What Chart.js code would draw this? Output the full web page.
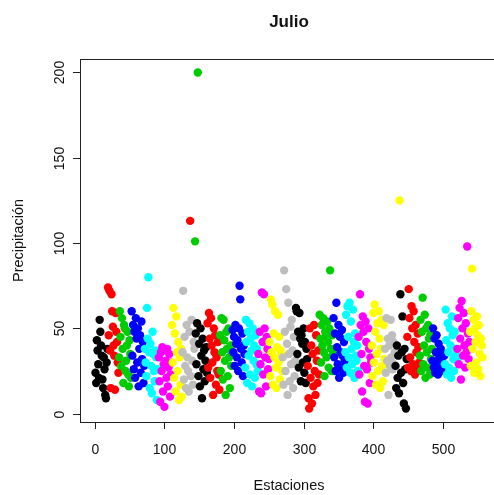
<!DOCTYPE html>
<html>
<head>
<meta charset="utf-8">
<script src="https://cdn.jsdelivr.net/npm/chart.js@4/dist/chart.umd.min.js"></script>
<style>
  html, body { margin: 0; padding: 0; overflow: hidden; background: #fff; }
  canvas { display: block; }
</style>
</head>
<body>
<canvas id="chart" width="510" height="495"></canvas>
<script>
// R default palette (colour = estado, cycling over 8 colours)
const paleta = ['#000000', '#FF0000', '#00CD00', '#0000FF', '#00FFFF', '#FF00FF', '#FFFF00', '#BEBEBE'];

// consecutive runs of stations sharing a colour
const colorCorrida = [0, 1, 2, 3, 4, 5, 6, 7, 1, 7, 2, 0, 2, 0, 1, 2, 3, 4, 5, 6, 7, 0, 1, 2, 3, 4, 5, 6, 7, 0, 6, 0, 1, 2, 3, 4, 5, 6];
const largoCorrida = [18, 16, 18, 19, 20, 19, 15, 11, 1, 6, 1, 3, 1, 13, 18, 18, 18, 19, 16, 19, 19, 17, 17, 20, 17, 19, 19, 19, 15, 6, 1, 10, 18, 18, 18, 18, 18, 19];

// July precipitation per station, in station order
const precipitacion = [
  24, 18, 43, 37, 29, 21, 55, 48, 40, 34, 20, 15, 33, 26, 11, 9, 30, 38,
  74, 46, 72, 37, 15, 70, 60, 51, 40, 34, 14, 59, 48, 42, 30, 24,
  33, 60, 45, 28, 56, 38, 18, 52, 50, 25, 31, 40, 48, 23, 16, 43, 35, 21,
  60, 34, 52, 26, 48, 21, 56, 44, 30, 50, 16, 38, 46, 24, 54, 32, 42, 18, 28,
  38, 30, 22, 62, 44, 80, 36, 15, 41, 28, 12, 48, 35, 25, 19, 37, 33, 8, 26, 34,
  33, 19, 7, 36, 25, 39, 13, 29, 4, 37, 31, 21, 38, 16, 27, 35, 10, 23, 30,
  52, 30, 62, 21, 47, 13, 57, 36, 25, 42, 8, 33, 17, 38, 10,
  36, 72, 20, 45, 28, 15, 52, 33, 25, 13, 48,
  113,
  22, 55, 31, 17, 42, 38,
  101,
  47, 29, 53,
  200,
  22, 41, 16, 50, 34, 9, 44, 26, 37, 19, 31, 39, 24,
  53, 27, 59, 44, 21, 56, 40, 30, 11, 50, 36, 46, 17, 33, 25, 42, 23, 14,
  46, 25, 56, 36, 20, 55, 43, 31, 11, 48, 38, 22, 50, 33, 15, 40, 28, 35,
  49, 36, 45, 28, 52, 41, 33, 43, 25, 50, 75, 67, 38, 30, 47, 22, 40, 35,
  27, 55, 42, 18, 48, 34, 53, 23, 44, 37, 16, 50, 31, 40, 21, 46, 29, 38, 25,
  35, 13, 48, 29, 12, 71, 42, 23, 70, 50, 33, 16, 45, 38, 26, 32,
  42, 22, 67, 36, 64, 17, 47, 33, 60, 27, 15, 39, 58, 30, 45, 20, 37, 35, 25,
  33, 17, 84, 48, 25, 73, 41, 11, 65, 35, 19, 51, 29, 55, 37, 15, 45, 22, 31,
  62, 60, 35, 48, 27, 59, 44, 19, 46, 41, 30, 50, 24, 42, 18, 38, 32,
  28, 9, 3, 50, 21, 40, 6, 35, 16, 52, 25, 11, 46, 31, 18, 37, 23,
  58, 44, 30, 52, 40, 56, 36, 22, 48, 45, 33, 54, 42, 27, 50, 84, 38, 25, 46, 35,
  56, 33, 47, 25, 65, 39, 29, 52, 21, 45, 36, 27, 49, 34, 24, 42, 31,
  36, 58, 27, 63, 45, 33, 65, 24, 54, 38, 29, 61, 42, 21, 47, 34, 31, 40, 25,
  45, 23, 70, 52, 35, 13, 57, 48, 28, 7, 54, 42, 26, 6, 50, 38, 18, 33, 30,
  40, 22, 59, 30, 64, 48, 17, 35, 53, 25, 60, 44, 15, 38, 55, 28, 19, 52, 32,
  38, 24, 56, 31, 44, 11, 40, 28, 55, 33, 46, 26, 42, 29, 36,
  28, 15, 40, 21, 34, 12,
  125,
  70, 24, 36, 57, 18, 6, 38, 26, 3, 32,
  45, 27, 73, 56, 33, 25, 63, 50, 29, 60, 42, 23, 52, 36, 26, 47, 39, 30,
  34, 55, 25, 48, 68, 29, 40, 58, 21, 50, 36, 27, 52, 44, 23, 46, 32, 38,
  31, 50, 27, 44, 24, 36, 46, 29, 23, 41, 33, 26, 38, 25, 30, 35, 28, 34,
  29, 61, 43, 23, 53, 36, 27, 50, 40, 21, 57, 46, 32, 25, 48, 34, 38, 31,
  38, 56, 29, 62, 44, 20, 66, 50, 34, 59, 40, 27, 53, 36, 98, 47, 32, 42,
  48, 28, 60, 85, 38, 55, 24, 50, 42, 30, 57, 46, 26, 52, 35, 22, 44, 40, 33
];

const ticksX = [0, 100, 200, 300, 400, 500];
const ticksY = [0, 50, 100, 150, 200];

// build points: x is the station number
const puntos = [];
const colores = [];
let n = 0;
largoCorrida.forEach((largo, r) => {
  for (let k = 0; k < largo && n < precipitacion.length; k++) {
    puntos.push({ x: n + 1, y: precipitacion[n] });
    colores.push(paleta[colorCorrida[r]]);
    n++;
  }
});

// R style 4% axis extension
const xMin = 1, xMax = puntos.length;
const yMin = Math.min(...precipitacion), yMax = Math.max(...precipitacion);
const xPad = (xMax - xMin) * 0.04, yPad = (yMax - yMin) * 0.04;

const FONT = '"Liberation Sans", Arial, sans-serif';

// axes, box and titles drawn like base R graphics
const ejesR = {
  id: 'ejesR',
  afterDraw(chart) {
    const { ctx, chartArea: a, scales: { x, y } } = chart;
    ctx.save();
    ctx.strokeStyle = '#222';
    ctx.lineWidth = 1;
    ctx.strokeRect(a.left + 0.5, a.top + 0.5, a.right - a.left, a.bottom - a.top);

    ctx.fillStyle = '#111';
    ctx.font = '14px ' + FONT;
    ctx.textAlign = 'center';
    ctx.textBaseline = 'middle';

    ticksX.forEach(v => {
      const px = Math.round(x.getPixelForValue(v)) + 0.5;
      ctx.beginPath();
      ctx.moveTo(px, a.bottom);
      ctx.lineTo(px, a.bottom + 7);
      ctx.stroke();
      ctx.fillText(String(v), px, a.bottom + 28);
    });

    ticksY.forEach(v => {
      const py = Math.round(y.getPixelForValue(v)) + 0.5;
      ctx.beginPath();
      ctx.moveTo(a.left - 7, py);
      ctx.lineTo(a.left, py);
      ctx.stroke();
      ctx.save();
      ctx.translate(a.left - 20, py);
      ctx.rotate(-Math.PI / 2);
      ctx.fillText(String(v), 0, 0);
      ctx.restore();
    });

    const cx = (a.left + a.right) / 2;
    ctx.font = '14.5px ' + FONT;
    ctx.fillText('Estaciones', cx, a.bottom + 64);
    ctx.save();
    ctx.translate(19, (a.top + a.bottom) / 2);
    ctx.rotate(-Math.PI / 2);
    ctx.fillText('Precipitación', 0, 0);
    ctx.restore();

    ctx.font = 'bold 17px ' + FONT;
    ctx.fillText('Julio', cx, 22);
    ctx.restore();
  }
};

const canvas = document.getElementById('chart');
new Chart(canvas.getContext('2d'), {
  type: 'scatter',
  data: {
    datasets: [{
      data: puntos,
      pointBackgroundColor: colores,
      pointBorderWidth: 0,
      pointRadius: 4.2,
      pointHoverRadius: 4.2
    }]
  },
  options: {
    responsive: false,
    animation: false,
    events: [],
    layout: { padding: { left: 80, top: 59, right: canvas.width - 498, bottom: 495 - 422 } },
    scales: {
      x: { type: 'linear', min: xMin - xPad, max: xMax + xPad, display: false },
      y: { type: 'linear', min: yMin - yPad, max: yMax + yPad, display: false }
    },
    plugins: { legend: { display: false }, tooltip: { enabled: false } }
  },
  plugins: [ejesR]
});
</script>
</body>
</html>
